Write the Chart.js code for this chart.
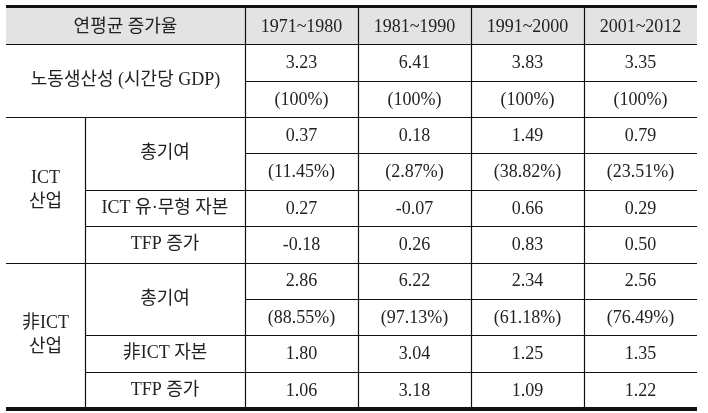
<!DOCTYPE html>
<html>
<head>
<meta charset="utf-8">
<script src="https://cdn.jsdelivr.net/npm/chart.js@4.4.0/dist/chart.umd.min.js"></script>
<style>
  html, body { margin: 0; padding: 0; background: #fff; }
  canvas { display: block; }
</style>
</head>
<body>
<canvas id="growthTable" width="708" height="413"></canvas>
<script>
// column headers (periods)
const periods = ['1971~1980', '1981~1990', '1991~2000', '2001~2012'];
// row keys, top to bottom (header row first)
const rowKeys = ['head', 'lp', 'lpShare', 'ictTotal', 'ictShare', 'ictCap', 'ictTfp', 'nTotal', 'nShare', 'nCap', 'nTfp'];

// values
const laborProd     = [3.23, 6.41, 3.83, 3.35];
const laborShare    = [100, 100, 100, 100];
const ictTotal      = [0.37, 0.18, 1.49, 0.79];
const ictShare      = [11.45, 2.87, 38.82, 23.51];
const ictCapital    = [0.27, -0.07, 0.66, 0.29];
const ictTfp        = [-0.18, 0.26, 0.83, 0.50];
const nonIctTotal   = [2.86, 6.22, 2.34, 2.56];
const nonIctShare   = [88.55, 97.13, 61.18, 76.49];
const nonIctCapital = [1.80, 3.04, 1.25, 1.35];
const nonIctTfp     = [1.06, 3.18, 1.09, 1.22];

function num(v) { return v.toFixed(2); }
function pct(v) { return v === 100 ? '(100%)' : '(' + v.toFixed(2) + '%)'; }

// cell text for each data row
const rowCells = {
  lp: laborProd.map(num),
  lpShare: laborShare.map(pct),
  ictTotal: ictTotal.map(num),
  ictShare: ictShare.map(pct),
  ictCap: ictCapital.map(num),
  ictTfp: ictTfp.map(num),
  nTotal: nonIctTotal.map(num),
  nShare: nonIctShare.map(pct),
  nCap: nonIctCapital.map(num),
  nTfp: nonIctTfp.map(num)
};

const FONT = '18px "Liberation Serif", "Noto Sans CJK KR", serif';
const TEXT = '#222';
const LINE = '#111';
const HEAD_BG = '#e3e3e3';
const TABLE_LEFT = 6;
const COL1_RIGHT = 85;

const tablePlugin = {
  id: 'tableDraw',
  afterDraw(chart) {
    const ctx = chart.ctx;
    const xs = chart.scales.x, ys = chart.scales.y;
    const area = chart.chartArea;
    const rowH = (area.bottom - area.top) / rowKeys.length;
    const colW = (area.right - area.left) / periods.length;
    const rowMid = i => ys.getPixelForValue(i);
    const rowEdge = i => Math.round(rowMid(i) - rowH / 2);
    const colMid = i => xs.getPixelForValue(i);
    const colEdge = i => Math.round(colMid(i) - colW / 2);
    const right = area.right;

    ctx.save();
    // header background
    ctx.fillStyle = HEAD_BG;
    ctx.fillRect(TABLE_LEFT, area.top, right - TABLE_LEFT, rowEdge(1) - area.top);

    // lines
    ctx.strokeStyle = LINE;
    ctx.lineWidth = 1.2;
    function hline(y, x0, x1) {
      ctx.beginPath(); ctx.moveTo(x0, y + 0.5); ctx.lineTo(x1, y + 0.5); ctx.stroke();
    }
    function vline(x, y0, y1) {
      ctx.beginPath(); ctx.moveTo(x + 0.5, y0); ctx.lineTo(x + 0.5, y1); ctx.stroke();
    }
    const full = [1, 3, 7];
    const dataOnly = [2, 4, 8];
    const midOnly = [5, 6, 9, 10];
    full.forEach(i => hline(rowEdge(i), TABLE_LEFT, right));
    dataOnly.forEach(i => hline(rowEdge(i), area.left, right));
    midOnly.forEach(i => hline(rowEdge(i), COL1_RIGHT, right));

    vline(COL1_RIGHT, rowEdge(3), area.bottom);
    vline(Math.round(area.left), area.top, area.bottom);
    for (let c = 1; c < periods.length; c++) vline(colEdge(c), area.top, area.bottom);

    // thick top and bottom rules
    ctx.fillStyle = LINE;
    ctx.fillRect(TABLE_LEFT, area.top - 3, right - TABLE_LEFT, 3);
    ctx.fillRect(TABLE_LEFT, area.bottom - 1, right - TABLE_LEFT, 4);

    // text
    ctx.fillStyle = TEXT;
    ctx.font = FONT;
    ctx.textAlign = 'center';
    ctx.textBaseline = 'middle';
    const labelMid = (TABLE_LEFT + area.left) / 2;
    const subMid = (COL1_RIGHT + area.left) / 2;
    const groupMid = (TABLE_LEFT + COL1_RIGHT) / 2;
    const between = (a, b) => (rowEdge(a) + rowEdge(b)) / 2;

    ctx.fillText('연평균 증가율', labelMid, rowMid(0) + 1);
    periods.forEach((p, c) => ctx.fillText(p, colMid(c), rowMid(0) + 1));

    ctx.fillText('노동생산성 (시간당 GDP)', labelMid, between(1, 3));

    ctx.fillText('ICT', groupMid, between(3, 7) - 12);
    ctx.fillText('산업', groupMid, between(3, 7) + 12);
    ctx.fillText('총기여', subMid, between(3, 5));
    ctx.fillText('ICT 유·무형 자본', subMid, rowMid(5));
    ctx.fillText('TFP 증가', subMid, rowMid(6));

    ctx.fillText('非ICT', groupMid, between(7, 11) - 12);
    ctx.fillText('산업', groupMid, between(7, 11) + 12);
    ctx.fillText('총기여', subMid, between(7, 9));
    ctx.fillText('非ICT 자본', subMid, rowMid(9));
    ctx.fillText('TFP 증가', subMid, rowMid(10));

    rowKeys.forEach((key, r) => {
      if (!rowCells[key]) return;
      rowCells[key].forEach((t, c) => ctx.fillText(t, colMid(c), rowMid(r) + 1));
    });
    ctx.restore();
  }
};

new Chart(document.getElementById('growthTable'), {
  type: 'bar',
  data: { labels: periods, datasets: [] },
  options: {
    responsive: false,
    animation: false,
    devicePixelRatio: 1,
    layout: { padding: { left: 245, right: 11, top: 8, bottom: 5 } },
    plugins: { legend: { display: false }, tooltip: { enabled: false } },
    scales: {
      x: { type: 'category', labels: periods, offset: true, display: false },
      y: { type: 'category', labels: rowKeys, offset: true, display: false }
    }
  },
  plugins: [tablePlugin]
});
</script>
</body>
</html>
